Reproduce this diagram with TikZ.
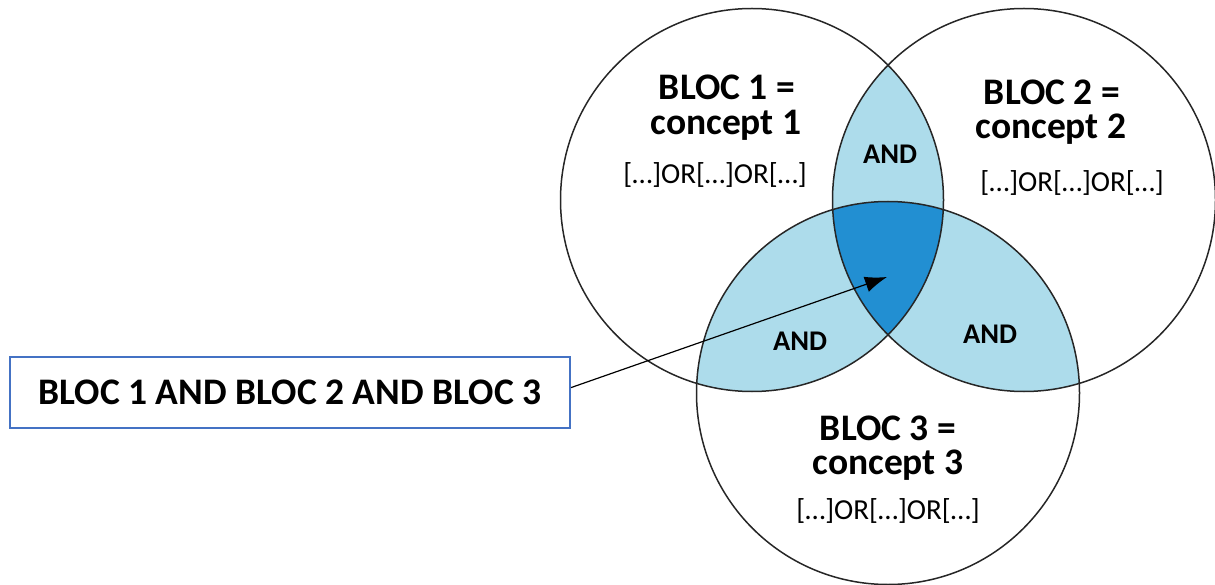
\documentclass[tikz,border=0pt]{standalone}
\usepackage{fontspec}
\setmainfont{Carlito}
\usetikzlibrary{arrows.meta}
\definecolor{lightand}{RGB}{173,220,235}
\definecolor{darkand}{RGB}{34,143,210}
\definecolor{boxblue}{RGB}{68,114,196}
\begin{document}
\begin{tikzpicture}[x=1pt,y=-1pt,
    ring/.style={draw=black!85,line width=1.5pt},
    head/.style={anchor=base,font=\fontsize{37.5}{36}\selectfont\bfseries,inner sep=0},
    terms/.style={anchor=base,font=\fontsize{29}{30}\selectfont,inner sep=0},
    andtxt/.style={anchor=base,font=\fontsize{28.5}{30}\selectfont\bfseries,inner sep=0}]
\useasboundingbox (0,0) rectangle (1215,585);
% centres of the three blocs
\coordinate (c1) at (752,200);
\coordinate (c2) at (1024,200);
\coordinate (c3) at (888,393);
\def\rr{191.5pt}
% pairwise overlaps
\begin{scope}
\clip (c1) circle[radius=\rr];
\fill[lightand] (c2) circle[radius=\rr];
\fill[lightand] (c3) circle[radius=\rr];
\end{scope}
\begin{scope}
\clip (c2) circle[radius=\rr];
\fill[lightand] (c3) circle[radius=\rr];
\end{scope}
% triple overlap
\begin{scope}
\clip (c1) circle[radius=\rr];
\clip (c2) circle[radius=\rr];
\fill[darkand] (c3) circle[radius=\rr];
\end{scope}
\draw[ring] (c1) circle[radius=\rr];
\draw[ring] (c2) circle[radius=\rr];
\draw[ring] (c3) circle[radius=\rr];
% texts
\node[head] (b1a) at (727,100) {BLOC 1 =};
\node[head] (b1b) at (726,135) {concept 1};
\node[terms] (b1c) at (715,184) {[…]OR[…]OR[…]};
\node[head] (b2a) at (1052,105) {BLOC 2 =};
\node[head] (b2b) at (1051,139) {concept 2};
\node[terms] (b2c) at (1072,192) {[…]OR[…]OR[…]};
\node[head] (b3a) at (888,440) {BLOC 3 =};
\node[head] (b3b) at (888,474) {concept 3};
\node[terms] (b3c) at (888,519) {[…]OR[…]OR[…]};
\node[andtxt] (and12) at (890,164) {AND};
\node[andtxt] (and13) at (800,350) {AND};
\node[andtxt] (and23) at (990,343) {AND};
% label box and arrow
\node[draw=boxblue,line width=2pt,minimum width=560,minimum height=71,inner sep=0,
      font=\fontsize{37.5}{36}\selectfont\bfseries] (box) at (290,392.5) {BLOC 1 AND BLOC 2 AND BLOC 3};
\coordinate (core) at (887,277);
\draw[line width=1.2pt,-{Latex[length=22pt,width=16pt]}] (box.1.5) -- (core);
\end{tikzpicture}
\end{document}
